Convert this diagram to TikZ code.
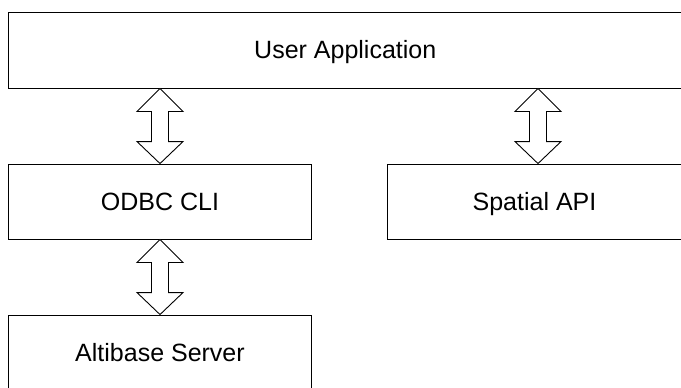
\documentclass[tikz,border=0pt]{standalone}
\usepackage{fontspec}
\setmainfont{Liberation Sans}
\usetikzlibrary{calc}
\tikzset{
  layerbox/.style={draw=black, line width=0.9pt, fill=white, inner sep=0pt,
    minimum height=75pt, text height=17.9pt, text depth=0pt,
    font=\fontsize{25}{30}\selectfont},
  bidirstyle/.style={draw=black, line width=0.9pt, fill=white, line join=miter}
}
\newcommand\bidir[2]{%
  \draw[bidirstyle] let \p1=(#1), \p2=(#2) in
    (\x1,\y1) -- (\x1+23pt,\y1-23pt) -- (\x1+8.5pt,\y1-23pt)
    -- (\x1+8.5pt,\y2+22pt) -- (\x1+23pt,\y2+22pt) -- (\x2,\y2)
    -- (\x1-23pt,\y2+22pt) -- (\x1-8.5pt,\y2+22pt)
    -- (\x1-8.5pt,\y1-23pt) -- (\x1-23pt,\y1-23pt) -- cycle;}
\begin{document}
\begin{tikzpicture}[x=1pt,y=-1pt]
  \useasboundingbox (0,0) rectangle (681,388);
  \node[layerbox, minimum width=673.5pt, minimum height=76pt, text depth=-5pt] (app) at (345.25,50) {User Application};
  \node[layerbox, minimum width=303pt] (odbc) at (160,201.5) {ODBC CLI};
  \node[layerbox, minimum width=295pt] (spatial) at (534.5,201.5) {Spatial API};
  \node[layerbox, minimum width=303pt] (server) at (160,352.5) {Altibase Server};
  \coordinate (a1top) at (app.south -| odbc.north);
  \coordinate (a2bot) at ([xshift=3.5pt]spatial.north);
  \coordinate (a2top) at (app.south -| a2bot);
  \bidir{a1top}{odbc.north}
  \bidir{a2top}{a2bot}
  \bidir{odbc.south}{server.north}
\end{tikzpicture}
\end{document}
